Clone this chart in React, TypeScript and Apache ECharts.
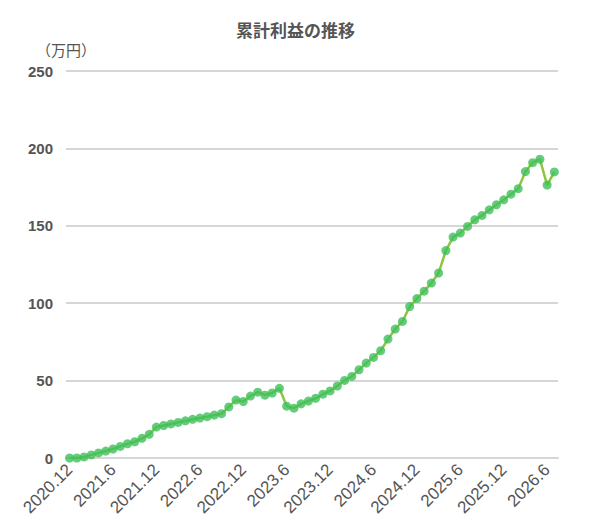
import React, { useEffect, useRef } from "react";
import * as echarts from "echarts";

const months: string[] = (() => {
  const out: string[] = [];
  let y = 2020;
  let m = 12;
  for (let i = 0; i < 68; i++) {
    out.push(`${y}.${m}`);
    m++;
    if (m > 12) {
      m = 1;
      y++;
    }
  }
  return out;
})();

const profit: number[] = [
  0, 0, 0.7, 2, 3.3, 4.5, 5.8, 7.5, 9.2, 10.5,
  12.7, 15.3, 20, 21, 22, 23, 24, 25, 25.8, 26.7,
  27.7, 28.6, 33, 37.4, 36.5, 40, 42.5, 40.6, 42, 45,
  33.5, 32.2, 35, 36.8, 38.6, 41.2, 43.3, 46.5, 50.1, 52.7,
  57, 61.3, 65, 69.3, 76.8, 83.3, 88.2, 97.8, 103, 107.8,
  113, 119.5, 134, 142.7, 145.3, 149.6, 153.9, 156.7, 160.3, 163.6,
  166.8, 170.4, 174, 185, 190.8, 193, 176.3, 184.8,
];

const yTicks = { min: 0, max: 250, interval: 50 };

export default function App() {
  const ref = useRef<HTMLDivElement>(null);
  useEffect(() => {
    document.body.style.margin = "0";
    const chart = echarts.init(ref.current!, null, { renderer: "svg" });
    chart.setOption({
      animation: false,
      backgroundColor: "#fff",
      title: {
        text: "累計利益の推移",
        left: "center",
        top: 16,
        textStyle: {
          fontSize: 17,
          fontWeight: "bold",
          color: "#555",
          fontFamily: "Noto Sans CJK JP",
        },
      },
      grid: { left: 66, right: 33, top: 71, bottom: 74 },
      xAxis: {
        type: "category",
        data: months,
        boundaryGap: true,
        axisLine: { lineStyle: { color: "#d6d6d6", width: 2 } },
        axisTick: {
          interval: 5,
          length: 5,
          lineStyle: { color: "#d6d6d6", width: 2 },
        },
        axisLabel: {
          interval: 5,
          rotate: 45,
          color: "#555",
          fontSize: 17,
          fontFamily: "Liberation Sans",
          margin: 9,
        },
      },
      yAxis: {
        type: "value",
        min: yTicks.min,
        max: yTicks.max,
        interval: yTicks.interval,
        name: "（万円）",
        nameLocation: "end",
        nameGap: 14,
        nameTextStyle: {
          color: "#555",
          fontSize: 15,
          fontFamily: "Noto Sans CJK JP",
          align: "center",
        },
        axisLine: { show: false },
        axisTick: { show: false },
        axisLabel: {
          color: "#555",
          fontSize: 15,
          fontWeight: "bold",
          fontFamily: "Liberation Sans",
          margin: 13,
        },
        splitLine: { lineStyle: { color: "#d6d6d6", width: 2 } },
      },
      series: [
        {
          type: "line",
          data: profit,
          symbol: "circle",
          symbolSize: 9,
          showSymbol: true,
          showAllSymbol: true,
          lineStyle: { color: "#8cc63f", width: 2.5 },
          itemStyle: { color: "#3dbf5a", opacity: 0.8 },
        },
      ],
    });
    return () => chart.dispose();
  }, []);
  return <div ref={ref} style={{ width: 591, height: 532 }} />;
}
